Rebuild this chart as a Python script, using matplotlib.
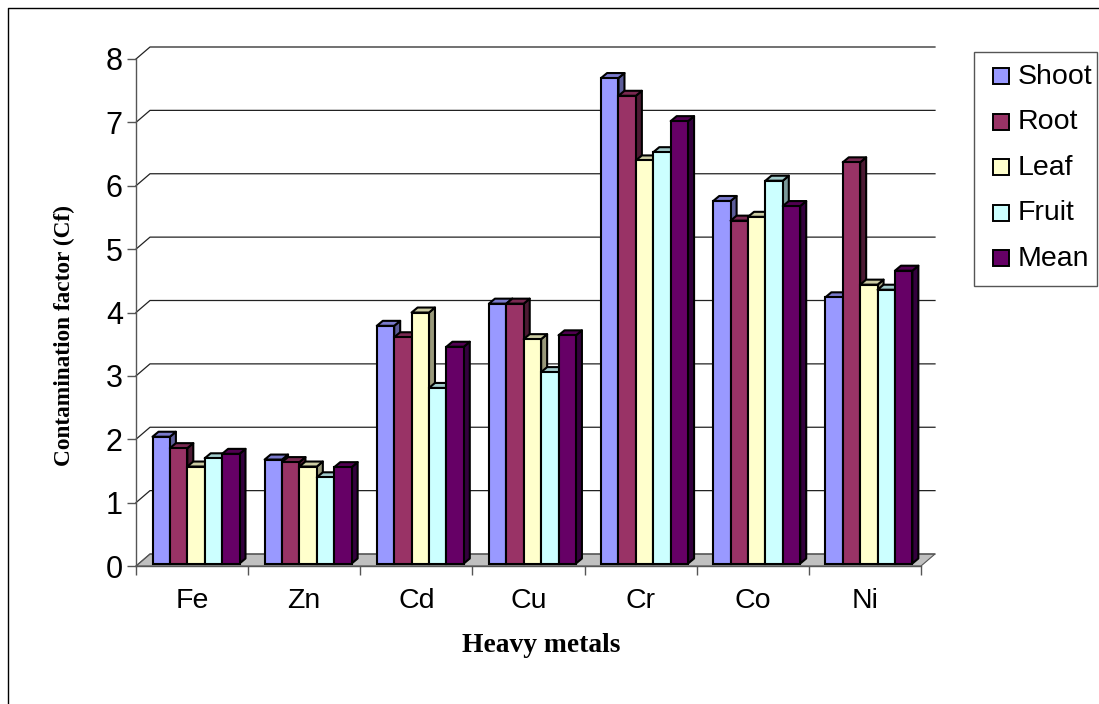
import matplotlib
matplotlib.use("Agg")
import matplotlib.pyplot as plt
from matplotlib.patches import Polygon, Rectangle
import numpy as np

metals = ["Fe", "Zn", "Cd", "Cu", "Cr", "Co", "Ni"]
shoot = [2.0, 1.64, 3.75, 4.1, 7.66, 5.72, 4.2]
root = [1.82, 1.6, 3.57, 4.1, 7.38, 5.41, 6.33]
leaf = [1.53, 1.53, 3.96, 3.54, 6.36, 5.47, 4.4]
fruit = [1.66, 1.36, 2.77, 3.02, 6.49, 6.04, 4.32]
mean = [1.73, 1.52, 3.42, 3.6, 6.98, 5.64, 4.62]
names = ["Shoot", "Root", "Leaf", "Fruit", "Mean"]
series = [shoot, root, leaf, fruit, mean]
colors = ["#9999FF", "#993366", "#FFFFCC", "#CCFFFF", "#660066"]
sides = ["#5C5C99", "#4D1A33", "#99997A", "#7A9999", "#33003D"]
tops = ["#7A7ACC", "#7A2952", "#CCCCA3", "#A3CCCC", "#520052"]
yticks = list(range(9))

W, H = 1099, 704
fig = plt.figure(figsize=(W / 100, H / 100), dpi=100)
L, R, T, B = 136, 921, 59, 566
ax = fig.add_axes([L / W, 1 - B / H, (R - L) / W, (B - T) / H])
ax.set_xlim(0, len(metals))
ax.set_ylim(0, 8)
ax.patch.set_alpha(0)
for s in ["top", "right"]:
    ax.spines[s].set_visible(False)
for s in ["left", "bottom"]:
    ax.spines[s].set_color("#555555")
    ax.spines[s].set_linewidth(1)

ux = len(metals) / (R - L)   # data units per pixel
uy = 8 / (B - T)
wall_dx, wall_dy = 14 * ux, 12 * uy
clip = False

# floor, wall and gridlines
ax.add_patch(Polygon([(0, 0), (len(metals), 0), (len(metals) + wall_dx, wall_dy), (wall_dx, wall_dy)],
                     fc="#C0C0C0", ec="#555555", lw=0.8, zorder=1, clip_on=clip))
for v in yticks:
    ax.plot([0, wall_dx, len(metals) + wall_dx], [v, v + wall_dy, v + wall_dy],
            color="#222222" if v else "#555555", lw=0.9, zorder=1.5, clip_on=clip)

# bars
n = len(series)
bw = 17.4 * ux
start = 16.5 * ux
base = 2.5 * uy
dx, dy = 6 * ux, 5 * uy
lw = 1.5
z = 2
for i in range(len(metals)):
    for j in range(n):
        v = series[j][i]
        x0 = i + start + j * bw
        x1 = x0 + bw
        y0, y1 = base, base + v
        ax.add_patch(Polygon([(x1, y0), (x1 + dx, y0 + dy), (x1 + dx, y1 + dy), (x1, y1)],
                             fc=sides[j], ec="black", lw=lw, zorder=z, clip_on=clip, joinstyle="round"))
        ax.add_patch(Polygon([(x0, y1), (x1, y1), (x1 + dx, y1 + dy), (x0 + dx, y1 + dy)],
                             fc=tops[j], ec="black", lw=lw, zorder=z, clip_on=clip, joinstyle="round"))
        ax.bar(x0, v, bw, bottom=base, align="edge", color=colors[j], edgecolor="black",
               linewidth=lw, zorder=z + 0.1, clip_on=clip)
        z += 0.2

ax.set_xticks(range(len(metals) + 1))
ax.set_xticklabels([])
ax.set_xticks(np.arange(len(metals)) + 0.5, minor=True)
ax.set_xticklabels(metals, minor=True, fontsize=20.5, family="Liberation Sans")
ax.tick_params(axis="x", which="major", length=6.5, width=1, color="#555555")
ax.tick_params(axis="x", which="minor", length=0, pad=15.5)
ax.set_yticks(yticks)
ax.set_yticklabels([str(v) for v in yticks], fontsize=22, family="Liberation Sans")
ax.tick_params(axis="y", length=6.5, width=1, color="#555555", pad=3)
for lab in ax.get_yticklabels():
    lab.set_y(lab.get_position()[1])

fig.text(64 / W, 1 - 336 / H, "Contamination factor (Cf)", rotation=90, ha="center", va="center",
         family="Liberation Serif", weight="bold", fontsize=16.8)
fig.text(541 / W, 1 - 645 / H, "Heavy metals", ha="center", va="center",
         family="Liberation Serif", weight="bold", fontsize=19.8)

# chart border
fig.add_artist(plt.Line2D([8 / W, 8 / W, 1], [0, 1 - 8 / H, 1 - 8 / H], color="black", lw=1))

# legend
fig.add_artist(Rectangle((974 / W, 1 - 286 / H), 123 / W, 234 / H, fc="white", ec="#555555", lw=1,
                         transform=fig.transFigure))
for k, name in enumerate(names):
    ys = 76 + k * 45.6
    yc = 76.5 + k * 45.6
    fig.add_artist(Rectangle((992.5 / W, 1 - (ys + 8) / H), 16 / W, 16 / H, fc=colors[k], ec="black", lw=1.4,
                             transform=fig.transFigure))
    fig.text(1018 / W, 1 - yc / H, name, va="center", ha="left", family="Liberation Sans", fontsize=20.5)

fig.savefig("out.png", dpi=100)
